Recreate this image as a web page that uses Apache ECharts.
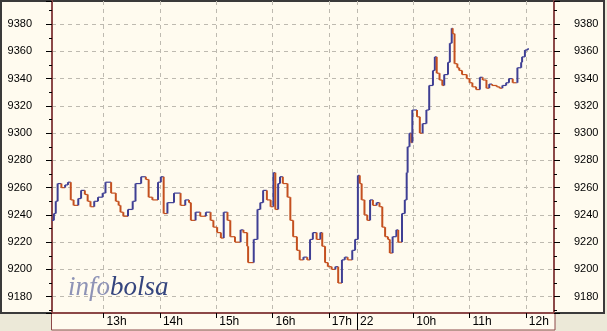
<!DOCTYPE html>
<html><head><meta charset="utf-8">
<script src="https://cdn.jsdelivr.net/npm/echarts@6/dist/echarts.min.js"></script>
<style>html,body{margin:0;padding:0;background:#ECE9D8}#c{width:607px;height:331px}</style>
</head><body><div id="c"></div>
<script>
// Trading sessions shown on the collapsed intraday axis
const sessions = [['21', '12:05', '17:29'], ['22', '09:00', '12:30']];
// Hour ticks and their labels
const tickTimes = ['21 13:00', '21 14:00', '21 15:00', '21 16:00', '21 17:00', '22 09:00', '22 10:00', '22 11:00', '22 12:00'];
const tickLabels = ['13h', '14h', '15h', '16h', '17h', '22', '10h', '11h', '12h'];
const dayBreak = '22 09:00';
// Price path (time, price)
const times = [
 '21 12:05','21 12:07','21 12:09','21 12:11','21 12:15','21 12:19','21 12:22','21 12:25','21 12:28','21 12:33',
 '21 12:36','21 12:40','21 12:43','21 12:46','21 12:50','21 12:54','21 12:59','21 13:02','21 13:08','21 13:13',
 '21 13:16','21 13:18','21 13:21','21 13:26','21 13:31','21 13:34','21 13:40','21 13:45','21 13:48','21 13:52',
 '21 13:58','21 14:01','21 14:04','21 14:08','21 14:15','21 14:22','21 14:27','21 14:31','21 14:33','21 14:38',
 '21 14:43','21 14:49','21 14:54','21 14:57','21 15:01','21 15:05','21 15:08','21 15:12','21 15:15','21 15:20',
 '21 15:26','21 15:29','21 15:33','21 15:34','21 15:40','21 15:44','21 15:47','21 15:50','21 15:54','21 15:58',
 '21 16:01','21 16:03','21 16:06','21 16:08','21 16:11','21 16:16','21 16:19','21 16:22','21 16:26','21 16:29',
 '21 16:33','21 16:37','21 16:40','21 16:43','21 16:47','21 16:51','21 16:53','21 16:56','21 16:59','21 17:03',
 '21 17:07','21 17:10','21 17:14','21 17:17','21 17:20','21 17:25','21 17:28',
 '22 09:01','22 09:03','22 09:05','22 09:08','22 09:11','22 09:14','22 09:17','22 09:21','22 09:24','22 09:27',
 '22 09:30','22 09:33','22 09:35','22 09:38','22 09:42','22 09:44','22 09:48','22 09:51','22 09:53','22 09:54',
 '22 09:56','22 09:58','22 09:59','22 10:04','22 10:07','22 10:10','22 10:14','22 10:17','22 10:21','22 10:23',
 '22 10:25','22 10:28','22 10:31','22 10:33','22 10:37','22 10:39','22 10:41','22 10:42','22 10:44','22 10:47',
 '22 10:49','22 10:52','22 10:57','22 11:00','22 11:03','22 11:07','22 11:11','22 11:14','22 11:18','22 11:21',
 '22 11:24','22 11:29','22 11:32','22 11:35','22 11:39','22 11:42','22 11:46','22 11:50','22 11:51','22 11:55',
 '22 11:56','22 11:59','22 12:02'
];
const prices = [
 9236,9241,9250,9263,9260,9262,9264,9251,9247,9252,
 9258,9255,9250,9246,9250,9253,9256,9264,9256,9250,
 9247,9242,9239,9244,9250,9263,9268,9266,9253,9251,
 9264,9268,9241,9249,9256,9247,9251,9249,9236,9242,
 9239,9242,9236,9231,9227,9223,9242,9236,9224,9220,
 9229,9227,9217,9205,9222,9244,9249,9258,9251,9246,
 9271,9244,9263,9268,9263,9253,9236,9224,9214,9207,
 9209,9207,9222,9227,9222,9227,9217,9205,9202,9200,
 9202,9190,9207,9209,9207,9214,9222,
 9269,9263,9251,9240,9236,9251,9247,9249,9246,9231,
 9224,9222,9212,9224,9229,9220,9241,9251,9271,9290,
 9300,9293,9317,9312,9300,9307,9317,9335,9346,9356,
 9344,9339,9335,9343,9352,9366,9377,9373,9351,9348,
 9346,9343,9340,9337,9334,9332,9341,9339,9333,9336,
 9335,9334,9333,9335,9337,9340,9337,9337,9348,9352,
 9356,9361,9362
];

const BLUE = '#3F3F94', RED = '#C4501F', BROWN = '#8C4848', CREAM = '#FFFBEF', GRIDC = '#BEBAB0';

function pad(n){return (n<10?'0':'')+n;}
const categories = [];
sessions.forEach(([d, s, e]) => {
  let [h, m] = s.split(':').map(Number);
  const [eh, em] = e.split(':').map(Number);
  while (h * 60 + m <= eh * 60 + em) {
    categories.push(d + ' ' + pad(h) + ':' + pad(m));
    m++; if (m === 60) { m = 0; h++; }
  }
});
const labelMap = {};
tickTimes.forEach((t, i) => labelMap[t] = tickLabels[i]);
const isTick = (i, v) => labelMap[v] !== undefined;

const idx = times.map(t => categories.indexOf(t));
const segData = prices.map((p, i) => [idx[i], p, i > 0 ? prices[i - 1] : p, i < prices.length - 1 ? idx[i + 1] : idx[i] + 1]);

const chart = echarts.init(document.getElementById('c'), null, {renderer: 'canvas'});
const yCommon = {
  type: 'value', min: 9168, max: 9397, splitNumber: 11,
  axisLine: {show: true, onZero: false, lineStyle: {color: BROWN, width: 2}},
  axisTick: {show: true, length: 6, lineStyle: {color: '#000'}},
  minorTick: {show: true, splitNumber: 2, length: 3, lineStyle: {color: '#000'}},
  axisLabel: {color: '#000', fontSize: 11, fontFamily: 'Liberation Sans', margin: 20, showMinLabel: false, showMaxLabel: false,
    formatter: v => String(Math.round(v))}
};
chart.setOption({
  animation: false,
  grid: {left: 52, right: 53, top: 1, bottom: 18, containLabel: false},
  xAxis: {
    type: 'category', data: categories, boundaryGap: false,
    axisLine: {show: true, onZero: false, lineStyle: {color: BROWN, width: 2}},
    axisTick: {show: true, interval: isTick, length: 5, lineStyle: {color: '#000'}},
    axisLabel: {interval: isTick, formatter: v => labelMap[v] || '', align: 'left', padding: [0, 0, 0, 3], margin: 3,
      color: '#000', fontSize: 12, fontFamily: 'Liberation Sans'},
    splitLine: {show: true, interval: isTick, lineStyle: {color: GRIDC, type: [4, 4], width: 1}}
  },
  yAxis: [
    Object.assign({}, yCommon, {position: 'left',
      splitLine: {show: true, showMinLine: false, showMaxLine: false, lineStyle: {color: GRIDC, type: [4, 4], width: 1}}}),
    Object.assign({}, yCommon, {position: 'right', splitLine: {show: false}})
  ],
  series: [{
    type: 'custom', data: segData, encode: {x: 0, y: 1}, clip: true, z: 5,
    renderItem: (params, api) => {
      const a = api.coord([api.value(0), api.value(1)]);
      const b = api.coord([api.value(0), api.value(2)]);
      const n = api.coord([api.value(3), api.value(1)]);
      const color = api.value(1) >= api.value(2) ? BLUE : RED;
      return {type: 'group', children: [
        {type: 'line', shape: {x1: a[0], y1: b[1], x2: a[0], y2: a[1]}, style: {stroke: color, lineWidth: 2}},
        {type: 'line', shape: {x1: a[0], y1: a[1], x2: n[0], y2: a[1]}, style: {stroke: color, lineWidth: 1.2}}
      ]};
    }
  }]
});

const breakX = chart.convertToPixel({xAxisIndex: 0}, categories.indexOf(dayBreak));
chart.setOption({
  graphic: [
    {type: 'rect', z: -10, shape: {x: 1, y: 1, width: 603, height: 312}, style: {fill: CREAM, stroke: '#3A3A3A', lineWidth: 2}},
    {type: 'rect', z: -10, shape: {x: 51.5, y: 313, width: 503.5, height: 17}, style: {fill: CREAM, stroke: BROWN, lineWidth: 1}},
    {type: 'line', z: 50, shape: {x1: Math.round(breakX) + 0.5, y1: 314, x2: Math.round(breakX) + 0.5, y2: 330}, style: {stroke: '#000', lineWidth: 1}},
    {type: 'text', z: 3, x: 68, y: 274, style: {
      text: '{a|info}{b|bolsa}',
      rich: {
        a: {fontFamily: 'Liberation Serif', fontStyle: 'italic', fontSize: 27, fill: '#8E93B6'},
        b: {fontFamily: 'Liberation Serif', fontStyle: 'italic', fontSize: 27, fill: '#35457E'}
      }
    }}
  ]
});
</script></body></html>
